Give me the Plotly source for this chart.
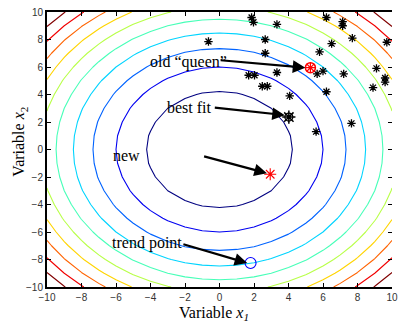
import numpy as np
import plotly.graph_objects as go

# ---- data ----
grid = list(range(-10, 11))
levels = [18, 36, 54, 72, 90, 108, 126, 144, 162, 180]
level_colors = ["rgb(0,0,128)", "rgb(0,0,241)", "rgb(0,99,255)", "rgb(0,212,255)",
                "rgb(71,255,184)", "rgb(184,255,71)", "rgb(255,212,0)", "rgb(255,99,0)",
                "rgb(241,0,0)", "rgb(128,0,0)"]

pop_x = [1.86, 1.97, 3.33, -0.64, 2.65, 2.65, 6.2, 7.14, 7.14, 7.7, 6.5, 5.8, 3.33,
         5.66, 6.0, 7.2, 6.2, 8.9, 9.1, 9.6, 9.6, 9.7, 7.65, 5.6, 1.69, 2.03, 2.48, 2.77, 4.07]
pop_y = [9.6, 9.25, 9.1, 7.85, 8.0, 7.0, 9.6, 9.3, 9.0, 8.1, 7.7, 7.1, 5.6,
         5.5, 5.7, 5.5, 4.2, 4.5, 5.9, 5.2, 4.9, 7.8, 1.9, 1.3, 5.4, 5.4, 4.6, 4.6, 3.9]

best_fit = (4.02, 2.36)
old_queen = (5.27, 5.95)
new_pt = (2.94, -1.8)
trend_pt = (1.8, -8.25)

labels = ["old \u201cqueen\u201d", "best fit", "new", "trend point"]
label_pos = [(-1.8, 6.39), (-1.72, 3.05), (-5.39, -0.4), (-4.22, -6.79)]
arrow_tail = [(-0.02, 6.5), (-0.36, 3.06), (-0.98, -0.47), (-2.18, -6.86)]
arrow_head = [(4.98, 5.95), (3.79, 2.5), (2.75, -1.73), (1.61, -8.26)]

tick_vals = [-10, -8, -6, -4, -2, 0, 2, 4, 6, 8, 10]

# ---- surface ----
gx = np.array(grid, dtype=float)
gy = np.array(grid, dtype=float)
X, Y = np.meshgrid(gx, gy)
Z = X ** 2 + Y ** 2

fig = go.Figure()
for lev, col in zip(levels, level_colors):
    fig.add_trace(go.Contour(
        x=gx, y=gy, z=Z, showscale=False, hoverinfo="skip",
        contours=dict(start=lev, end=lev, size=1, coloring="none"),
        line=dict(color=col, width=1.1, smoothing=0),
    ))

fig.add_trace(go.Scatter(
    x=pop_x, y=pop_y, mode="markers",
    marker=dict(symbol="asterisk-open", size=7, color="black", line=dict(color="black", width=1.3)),
))
# best fit cluster
fig.add_trace(go.Scatter(
    x=[best_fit[0]], y=[best_fit[1]], mode="markers",
    marker=dict(symbol="asterisk-open", size=11, color="black", line=dict(color="black", width=1.5)),
))
fig.add_trace(go.Scatter(
    x=[best_fit[0]], y=[best_fit[1]], mode="markers",
    marker=dict(symbol="circle-open-dot", size=8, color="black", line=dict(color="black", width=1.2)),
))
# old queen
fig.add_trace(go.Scatter(
    x=[old_queen[0]], y=[old_queen[1]], mode="markers",
    marker=dict(symbol="circle-open", size=10, color="red", line=dict(color="red", width=1.5)),
))
fig.add_trace(go.Scatter(
    x=[old_queen[0]], y=[old_queen[1]], mode="markers",
    marker=dict(symbol="asterisk-open", size=9, color="red", line=dict(color="red", width=1.2)),
))
# new
fig.add_trace(go.Scatter(
    x=[new_pt[0]], y=[new_pt[1]], mode="markers",
    marker=dict(symbol="asterisk-open", size=10, color="red", line=dict(color="red", width=1.1)),
))
# trend point
fig.add_trace(go.Scatter(
    x=[trend_pt[0]], y=[trend_pt[1]], mode="markers",
    marker=dict(symbol="circle-open", size=11, color="blue", line=dict(color="blue", width=1.1)),
))
# invisible trace for right-side ticks
fig.add_trace(go.Scatter(x=[0], y=[0], yaxis="y2", mode="markers",
                         marker=dict(opacity=0), hoverinfo="skip"))

annotations = []
for txt, (lx, ly) in zip(labels, label_pos):
    annotations.append(dict(x=lx, y=ly, xref="x", yref="y", text=txt, showarrow=False,
                            font=dict(family="Liberation Serif", size=16, color="black"),
                            xanchor="center", yanchor="middle"))
for (tx, ty), (hx, hy) in zip(arrow_tail, arrow_head):
    annotations.append(dict(x=hx, y=hy, ax=tx, ay=ty, xref="x", yref="y", axref="x", ayref="y",
                            text="", showarrow=True, arrowhead=2, arrowsize=1.15,
                            arrowwidth=2.2, arrowcolor="black"))
annotations.append(dict(x=0.485, y=-0.098, xref="paper", yref="paper",
                        text="Variable <i>x</i><sub><i>1</i></sub>", showarrow=False,
                        font=dict(family="Liberation Serif", size=16, color="black"),
                        xanchor="center", yanchor="middle"))
annotations.append(dict(x=-0.08, y=0.53, xref="paper", yref="paper",
                        text="Variable <i>x</i><sub>2</sub>", showarrow=False, textangle=-90,
                        font=dict(family="Liberation Serif", size=16, color="black"),
                        xanchor="center", yanchor="middle"))

tickfont = dict(family="Liberation Sans", size=10, color="#333333")
fig.update_layout(
    width=398, height=324,
    margin=dict(l=47, r=0, t=12, b=37),
    paper_bgcolor="white", plot_bgcolor="white",
    showlegend=False,
    annotations=annotations,
    xaxis=dict(range=[-10, 10], tickvals=tick_vals, ticks="inside", ticklen=4,
               tickcolor="black", showline=True, linecolor="black", linewidth=2,
               mirror="ticks", showgrid=False, zeroline=False, tickfont=tickfont,
               ticklabeloverflow="allow"),
    yaxis=dict(range=[-10, 10], tickvals=tick_vals, ticks="inside", ticklen=4,
               tickcolor="black", showline=True, linecolor="black", linewidth=2,
               mirror=False, showgrid=False, zeroline=False, tickfont=tickfont,
               ticklabeloverflow="allow"),
    yaxis2=dict(range=[-10, 10], tickvals=tick_vals, ticks="inside", ticklen=4,
                tickcolor="black", showline=False, overlaying="y", side="right",
                showticklabels=False, showgrid=False, zeroline=False),
)

fig.write_html("out.html")
